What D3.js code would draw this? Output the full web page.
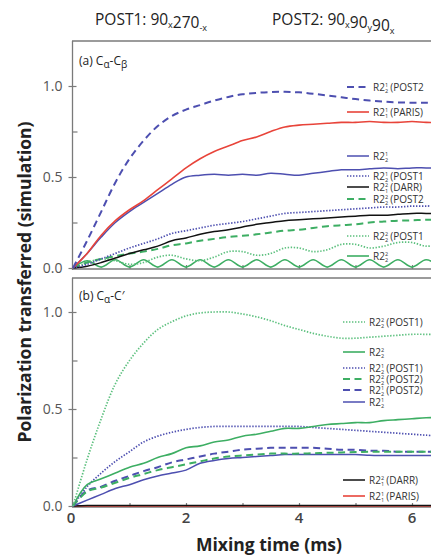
<!DOCTYPE html>
<html>
<head>
<meta charset="utf-8">
<script src="https://cdn.jsdelivr.net/npm/d3@7"></script>
<style>
body { margin: 0; background: #fff; }
text { font-family: "Open Sans", "DejaVu Sans", sans-serif; }
.leg { font-family: "Liberation Sans Narrow", "Open Sans", sans-serif; font-size: 10px; fill: #333; }
</style>
</head>
<body>
<div id="chart"></div>
<script>
// mixing time grid (ms)
const times = [0, 0.25, 0.5, 0.75, 1, 1.25, 1.5, 1.75, 2, 2.25, 2.5, 2.75, 3, 3.25, 3.5,
    3.75, 4, 4.25, 4.5, 4.75, 5, 5.25, 5.5, 5.75, 6, 6.25, 6.5];

// (a) Ca-Cb
const aPost2Blue = [0, 0.15, 0.31, 0.47, 0.60, 0.70, 0.78, 0.835, 0.87, 0.895, 0.92, 0.94, 0.955, 0.962,
    0.967, 0.968, 0.965, 0.957, 0.948, 0.938, 0.928, 0.92, 0.914, 0.91, 0.908, 0.908, 0.908];
const aParisRed = [0, 0.08, 0.18, 0.26, 0.32, 0.37, 0.43, 0.49, 0.55, 0.60, 0.64, 0.67, 0.70, 0.72,
    0.75, 0.775, 0.785, 0.79, 0.795, 0.80, 0.80, 0.805, 0.80, 0.80, 0.805, 0.80, 0.80];
const aR221Blue = [0, 0.08, 0.17, 0.25, 0.31, 0.36, 0.41, 0.46, 0.50, 0.51, 0.515, 0.51, 0.515, 0.51,
    0.52, 0.515, 0.51, 0.52, 0.53, 0.54, 0.54, 0.545, 0.55, 0.545, 0.55, 0.55, 0.55];
const aPost1Blue = [0, 0.02, 0.05, 0.08, 0.11, 0.135, 0.16, 0.19, 0.205, 0.22, 0.235, 0.245, 0.255, 0.27,
    0.285, 0.30, 0.305, 0.31, 0.315, 0.32, 0.325, 0.33, 0.335, 0.335, 0.34, 0.34, 0.345];
const aDarrBlack = [0, 0.01, 0.03, 0.055, 0.08, 0.10, 0.12, 0.15, 0.165, 0.185, 0.20, 0.21, 0.225, 0.24,
    0.25, 0.26, 0.265, 0.27, 0.275, 0.28, 0.285, 0.29, 0.29, 0.295, 0.30, 0.30, 0.30];
const aPost2Green = [0, 0.03, 0.05, 0.065, 0.08, 0.09, 0.105, 0.125, 0.135, 0.15, 0.16, 0.17, 0.177, 0.185,
    0.195, 0.205, 0.21, 0.22, 0.23, 0.235, 0.24, 0.25, 0.255, 0.26, 0.262, 0.265, 0.265];
const aPost1Green = [0, 0.03, 0.05, 0.04, 0.02, 0.03, 0.06, 0.07, 0.05, 0.04, 0.06, 0.09, 0.09, 0.07,
    0.08, 0.11, 0.11, 0.09, 0.10, 0.13, 0.13, 0.11, 0.12, 0.14, 0.14, 0.12, 0.13];
const aR222Green = [0, 0.04, 0.005, 0.045, 0.005, 0.045, 0.005, 0.045, 0.005, 0.045, 0.005, 0.045, 0.005, 0.045,
    0.005, 0.045, 0.005, 0.045, 0.005, 0.045, 0.005, 0.045, 0.005, 0.045, 0.005, 0.045, 0.005];

// (b) Ca-C'
const bPost1Green = [0, 0.24, 0.45, 0.63, 0.75, 0.84, 0.91, 0.95, 0.98, 0.995, 1.0, 1.0, 0.99, 0.975,
    0.955, 0.93, 0.91, 0.89, 0.875, 0.865, 0.865, 0.87, 0.875, 0.88, 0.885, 0.885, 0.885];
const bR222Green = [0, 0.11, 0.14, 0.17, 0.20, 0.22, 0.25, 0.27, 0.30, 0.31, 0.33, 0.34, 0.36, 0.37,
    0.385, 0.40, 0.40, 0.41, 0.42, 0.425, 0.43, 0.43, 0.44, 0.445, 0.45, 0.455, 0.455];
const bPost1Blue = [0, 0.10, 0.17, 0.23, 0.28, 0.33, 0.36, 0.38, 0.395, 0.405, 0.41, 0.41, 0.41, 0.41,
    0.41, 0.41, 0.41, 0.405, 0.40, 0.395, 0.39, 0.385, 0.38, 0.375, 0.37, 0.365, 0.36];
const bPost2Green = [0, 0.075, 0.095, 0.12, 0.145, 0.165, 0.185, 0.20, 0.215, 0.23, 0.245, 0.255, 0.26, 0.265,
    0.27, 0.27, 0.27, 0.272, 0.274, 0.276, 0.278, 0.28, 0.28, 0.28, 0.28, 0.28, 0.28];
const bPost2Blue = [0, 0.08, 0.10, 0.13, 0.155, 0.18, 0.20, 0.225, 0.24, 0.255, 0.27, 0.28, 0.29, 0.295,
    0.30, 0.30, 0.30, 0.30, 0.295, 0.29, 0.29, 0.285, 0.285, 0.28, 0.28, 0.28, 0.28];
const bR221Blue = [0, 0.03, 0.06, 0.09, 0.11, 0.135, 0.155, 0.17, 0.185, 0.22, 0.235, 0.245, 0.25, 0.255,
    0.26, 0.265, 0.265, 0.265, 0.265, 0.265, 0.265, 0.262, 0.26, 0.26, 0.26, 0.26, 0.26];
const bDarrBlack = [0, 0.002, 0.002, 0.002, 0.002, 0.002, 0.002, 0.002, 0.002, 0.002, 0.002, 0.002, 0.002, 0.002,
    0.002, 0.002, 0.002, 0.002, 0.002, 0.002, 0.002, 0.002, 0.002, 0.002, 0.002, 0.002, 0.002];
const bParisRed = [0, 0, 0, 0, 0, 0, 0, 0, 0, 0, 0, 0, 0, 0, 0, 0, 0, 0, 0, 0, 0, 0, 0, 0, 0, 0, 0];

const yTicks = [0, 0.5, 1.0];
const xTickLabels = [0, 2, 4, 6];

const BLUE = '#4d4fb0', RED = '#e8443a', GREEN = '#3dae63', GREEN_LT = '#5cc07e', BLACK = '#111';

const styles = {
    solid: null,
    dash: '7,4.5',
    dot: '1.4,1.6'
};

// series: values, colour, dash, label parts [sub, sup, tag], legend y
const panelA = [
    { v: aR222Green, c: GREEN, d: 'solid', w: 1.6, lab: ['2', '2', ''], ly: 256 },
    { v: aPost1Green, c: GREEN_LT, d: 'dot', w: 1.7, lab: ['2', '2', '(POST1'], ly: 236 },
    { v: aPost2Green, c: GREEN, d: 'dash', w: 2, lab: ['2', '2', '(POST2'], ly: 199 },
    { v: aDarrBlack, c: BLACK, d: 'solid', w: 1.5, lab: ['1', '2', '(DARR)'], ly: 187 },
    { v: aPost1Blue, c: BLUE, d: 'dot', w: 1.7, lab: ['2', '1', '(POST1'], ly: 176 },
    { v: aR221Blue, c: BLUE, d: 'solid', w: 1.5, lab: ['2', '1', ''], ly: 156 },
    { v: aParisRed, c: RED, d: 'solid', w: 1.6, lab: ['1', '1', '(PARIS)'], ly: 112 },
    { v: aPost2Blue, c: BLUE, d: 'dash', w: 2, lab: ['2', '1', '(POST2'], ly: 87 }
];
const panelB = [
    { v: bParisRed, c: RED, d: 'solid', w: 1.6, lab: ['1', '1', '(PARIS)'], ly: 496 },
    { v: bDarrBlack, c: BLACK, d: 'solid', w: 1.5, lab: ['1', '2', '(DARR)'], ly: 480 },
    { v: bR221Blue, c: BLUE, d: 'solid', w: 1.5, lab: ['2', '1', ''], ly: 402 },
    { v: bPost2Blue, c: BLUE, d: 'dash', w: 2, lab: ['2', '1', '(POST2)'], ly: 390 },
    { v: bPost2Green, c: GREEN, d: 'dash', w: 2, lab: ['2', '2', '(POST2)'], ly: 379 },
    { v: bPost1Blue, c: BLUE, d: 'dot', w: 1.7, lab: ['2', '1', '(POST1)'], ly: 368 },
    { v: bR222Green, c: GREEN, d: 'solid', w: 1.6, lab: ['2', '2', ''], ly: 352 },
    { v: bPost1Green, c: GREEN_LT, d: 'dot', w: 1.7, lab: ['2', '2', '(POST1)'], ly: 322 }
];

const W = 431, H = 557;
const svg = d3.select('#chart').append('svg')
    .attr('width', W).attr('height', H);

const x = d3.scaleLinear().domain([0, 7]).range([73, 468.5]);

const AXIS = '#7a7a7a';

function drawPanel(series, y, top, bottom, legX, label, showX) {
    const g = svg.append('g');

    // frame
    g.append('line').attr('x1', 72).attr('x2', W).attr('y1', top).attr('y2', top)
        .attr('stroke', AXIS).attr('stroke-width', 1.3);
    g.append('line').attr('x1', 72.5).attr('x2', 72.5).attr('y1', top).attr('y2', bottom)
        .attr('stroke', AXIS).attr('stroke-width', 1.3);
    g.append('line').attr('x1', 72).attr('x2', W).attr('y1', y(0) + 1).attr('y2', y(0) + 1)
        .attr('stroke', AXIS).attr('stroke-width', 1.3);

    // y axis
    const yAxis = g.append('g').attr('transform', 'translate(72.5,0)')
        .call(d3.axisLeft(y).tickValues(yTicks).tickFormat(d3.format('.1f'))
            .tickSizeInner(4).tickSizeOuter(0).tickPadding(6));
    yAxis.select('.domain').remove();
    yAxis.selectAll('.tick line').attr('x2', 4).attr('x1', -4).attr('stroke', AXIS).attr('stroke-width', 1.2);
    yAxis.selectAll('.tick text').attr('fill', '#555').style('font-size', '14px')
        .style('font-family', '"Open Sans", sans-serif');
    const yMinor = g.append('g').attr('transform', 'translate(72.5,0)')
        .call(d3.axisRight(y).tickValues([0.25, 0.75]).tickFormat('').tickSizeInner(5).tickSizeOuter(0));
    yMinor.select('.domain').remove();
    yMinor.selectAll('.tick line').attr('stroke', AXIS).attr('stroke-width', 1.2);

    // x axis ticks pointing up
    const xAxis = g.append('g').attr('transform', `translate(0,${y(0) + 1})`)
        .call(d3.axisBottom(x).tickValues([1, 2, 3, 4, 5, 6, 7]).tickSizeInner(-4).tickSizeOuter(0)
            .tickFormat(''));
    xAxis.select('.domain').remove();
    xAxis.selectAll('.tick line').attr('stroke', AXIS).attr('stroke-width', 1.2);

    if (showX) {
        g.selectAll('.xlab').data(xTickLabels).enter().append('text')
            .attr('x', d => x(d) - (d === 0 ? 2 : 0))
            .attr('y', y(0) + 17)
            .attr('text-anchor', 'middle')
            .attr('fill', '#444')
            .style('font-size', '15px')
            .style('font-weight', '600')
            .text(d => d);
    }

    // curves
    const line = d3.line()
        .x((d, i) => x(times[i]))
        .y(d => y(d))
        .curve(d3.curveCatmullRom.alpha(0.5));

    series.forEach(s => {
        g.append('path')
            .attr('d', line(s.v))
            .attr('fill', 'none')
            .attr('stroke', s.c)
            .attr('stroke-width', s.w)
            .attr('stroke-dasharray', styles[s.d]);
    });

    // legend
    series.forEach(s => {
        g.append('line')
            .attr('x1', legX).attr('x2', legX + 22)
            .attr('y1', s.ly).attr('y2', s.ly)
            .attr('stroke', s.c).attr('stroke-width', s.w)
            .attr('stroke-dasharray', styles[s.d]);
        const t = g.append('text').attr('class', 'leg')
            .attr('x', legX + 26).attr('y', s.ly + 3.5);
        t.append('tspan').text('R2');
        t.append('tspan').attr('dy', 2.5).style('font-size', '5.5px').text(s.lab[0]);
        t.append('tspan').attr('dx', -3).attr('dy', -6.5).style('font-size', '5.5px').text(s.lab[1]);
        if (s.lab[2]) {
            t.append('tspan').attr('dx', 2).attr('dy', 4).text(s.lab[2]);
        }
    });

    // panel label
    const pl = g.append('text').attr('x', 79).attr('y', top + (label[0] === 'a' ? 24 : 22))
        .style('font-size', '12px').attr('fill', '#222');
    pl.append('tspan').text(`(${label[0]}) C`);
    pl.append('tspan').attr('dy', 3).style('font-size', '10px').text('\u03b1');
    pl.append('tspan').attr('dy', -3).text(label[1]);
    if (label[2]) pl.append('tspan').attr('dy', 3).style('font-size', '10px').text(label[2]);
}

const yA = d3.scaleLinear().domain([0, 1]).range([268, 86]);
const yB = d3.scaleLinear().domain([0, 1]).range([506, 312]);

drawPanel(panelA, yA, 41, 270, 347, ['a', '-C', '\u03b2'], false);
drawPanel(panelB, yB, 278, 507, 343, ['b', '-C\u2032', ''], true);

// titles
function title(xPos, parts) {
    const t = svg.append('text').attr('x', xPos).attr('y', 25)
        .style('font-size', '15.5px').attr('fill', '#222');
    parts.forEach(p => {
        if (p.sub) {
            t.append('tspan').attr('dy', 3).style('font-size', '9px').text(p.s);
            t.append('tspan').attr('dy', -3).text('');
        } else {
            t.append('tspan').text(p.s);
        }
    });
}
title(95, [{ s: 'POST1: 90' }, { s: 'x', sub: true }, { s: '270' }, { s: '-x', sub: true }]);
title(272, [{ s: 'POST2: 90' }, { s: 'x', sub: true }, { s: '90' }, { s: 'y', sub: true }, { s: '90' }, { s: 'x', sub: true }]);

// axis titles
svg.append('text')
    .attr('x', 269).attr('y', 551)
    .attr('text-anchor', 'middle')
    .style('font-size', '17.5px').style('font-weight', 'bold').attr('fill', '#222')
    .text('Mixing time (ms)');
svg.append('text')
    .attr('transform', 'translate(31,282) rotate(-90)')
    .attr('text-anchor', 'middle')
    .style('font-size', '17.5px').style('font-weight', 'bold').attr('fill', '#222')
    .text('Polarization transferred (simulation)');
</script>
</body>
</html>
